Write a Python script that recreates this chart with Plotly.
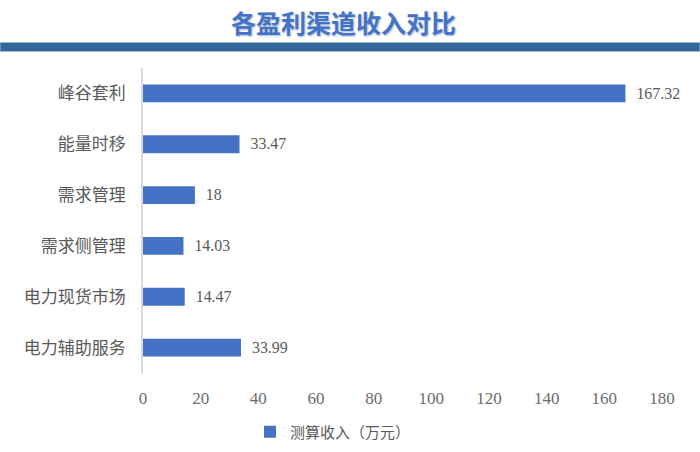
import plotly.graph_objects as go

categories = ["峰谷套利", "能量时移", "需求管理", "需求侧管理", "电力现货市场", "电力辅助服务"]
values = [167.32, 33.47, 18, 14.03, 14.47, 33.99]
value_labels = ["167.32", "33.47", "18", "14.03", "14.47", "33.99"]
series_name = "测算收入（万元）"
x_ticks = [0, 20, 40, 60, 80, 100, 120, 140, 160, 180]
title_text = "各盈利渠道收入对比"

FONT = "Liberation Serif, Noto Sans CJK SC, serif"
BAR = "#4472C4"
W, H = 700, 452
L, R, T, B = 143, 38, 68, 79
plot_h = H - T - B
plot_w = W - L - R

def py(yp):
    return (H - B - yp) / plot_h

def px(xp):
    return (xp - L) / plot_w

fig = go.Figure()
fig.add_trace(go.Bar(
    y=categories, x=values, orientation="h",
    name=series_name,
    marker=dict(color=BAR, line=dict(width=0)),
    width=0.35,
    text=["\u2002" + s for s in value_labels], textposition="outside", cliponaxis=False,
    textfont=dict(family=FONT, size=17, color="#595959"),
))

fig.update_layout(
    width=W, height=H,
    paper_bgcolor="white", plot_bgcolor="white",
    margin=dict(l=L, r=R, t=T, b=B, autoexpand=False),
    font=dict(family=FONT, color="#595959"),
    showlegend=True,
    legend=dict(orientation="h", x=333 / W, xanchor="center", xref="container",
                y=(H - 432) / H, yanchor="middle", yref="container",
                font=dict(size=15, color="#595959"), itemwidth=30),
    xaxis=dict(range=[0, 180], tickvals=x_ticks, showgrid=False, zeroline=False,
               showline=False, ticks="", automargin=False, ticklabelstandoff=13,
               tickfont=dict(size=17, color="#6B6B6B")),
    yaxis=dict(autorange="reversed", showgrid=False, zeroline=False,
               showline=True, linecolor="#D9D9D9", linewidth=1.5, ticks="",
               automargin=False, ticklabelstandoff=12,
               tickfont=dict(size=17, color="#595959")),
)

# Blue band under the title
fig.add_shape(type="rect", xref="paper", yref="paper",
              x0=px(0), x1=px(W), y0=py(51.5), y1=py(42.5),
              fillcolor="#336699", line=dict(width=1, color="#9DB6D1"))

# Title with soft shadow
fig.add_annotation(xref="paper", yref="paper", x=px(343), y=py(22),
                   xanchor="center", yanchor="middle",
                   text="<b>" + title_text + "</b>", showarrow=False,
                   font=dict(family="Noto Sans CJK SC", size=25, color="#4472C4",
                             shadow="1px 1px 2px #A9B9DA"))

fig.write_html("out.html",
               config={"displayModeBar": False},
               post_script="document.body.style.margin='0';document.body.style.overflow='hidden';")
